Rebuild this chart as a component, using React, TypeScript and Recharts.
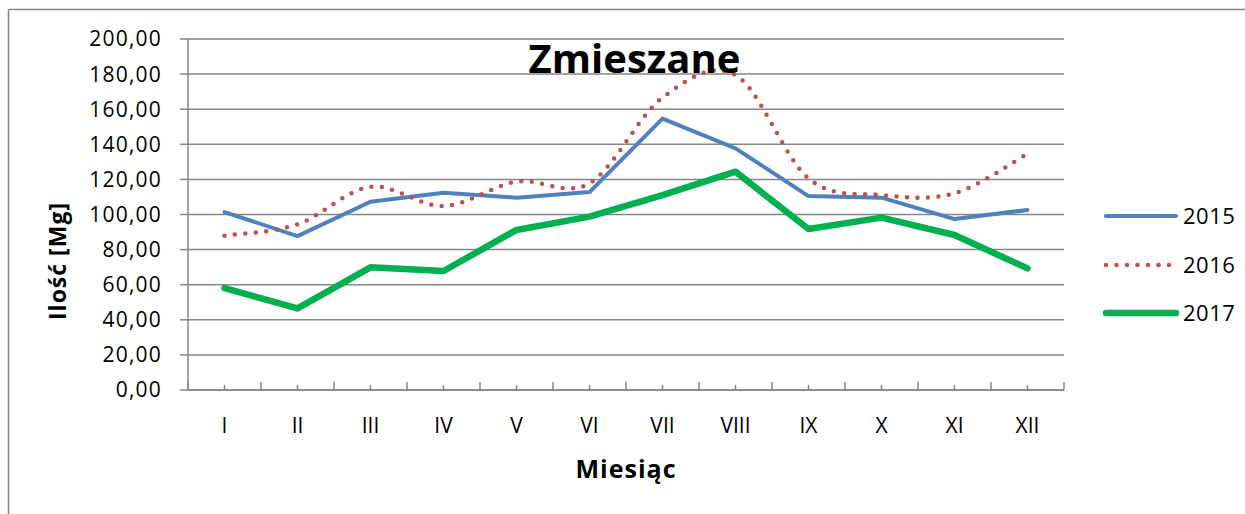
import React from "react";
import { LineChart, Line, XAxis, YAxis, CartesianGrid } from "recharts";

const categories = ["I", "II", "III", "IV", "V", "VI", "VII", "VIII", "IX", "X", "XI", "XII"];
const values2015 = [101.4, 87.7, 107.3, 112.4, 109.6, 112.8, 154.6, 137.7, 110.5, 109.6, 97.4, 102.6];
const values2016 = [87.9, 94.4, 115.8, 104.8, 118.7, 117.8, 166.6, 179.5, 120.6, 111.1, 112.1, 134.5];
const values2017 = [58.1, 46.5, 69.9, 67.8, 91.2, 98.8, 111.0, 124.4, 91.7, 98.2, 88.3, 69.3];
const yTicks = [0, 20, 40, 60, 80, 100, 120, 140, 160, 180, 200];
const seriesNames = ["2015", "2016", "2017"];
const title = "Zmieszane";
const yTitle = "Ilość [Mg]";
const xTitle = "Miesiąc";

const data = categories.map((c, i) => ({
  x: i + 1,
  cat: c,
  s2015: values2015[i],
  s2016: values2016[i],
  s2017: values2017[i],
}));

const xTicks: number[] = [];
for (let i = 0; i <= categories.length * 2; i++) xTicks.push(0.5 + i * 0.5);

const GRID = "#868686";
const FONT = "'Open Sans', sans-serif";

// Excel-like smoothing (Catmull-Rom / cardinal tension 0)
function excelSmooth(context: any) {
  let pts: number[][] = [];
  return {
    areaStart() {},
    areaEnd() {},
    lineStart() {
      pts = [];
    },
    point(x: number, y: number) {
      pts.push([+x, +y]);
    },
    lineEnd() {
      if (!pts.length) return;
      context.moveTo(pts[0][0], pts[0][1]);
      for (let i = 0; i < pts.length - 1; i++) {
        const p0 = pts[i - 1] || pts[i];
        const p1 = pts[i];
        const p2 = pts[i + 1];
        const p3 = pts[i + 2] || pts[i + 1];
        context.bezierCurveTo(
          p1[0] + (p2[0] - p0[0]) / 6,
          p1[1] + (p2[1] - p0[1]) / 6,
          p2[0] - (p3[0] - p1[0]) / 6,
          p2[1] - (p3[1] - p1[1]) / 6,
          p2[0],
          p2[1]
        );
      }
    },
  };
}

const XTick = (props: any) => {
  const { x, y, payload } = props;
  const v = payload.value;
  const isCenter = Number.isInteger(v);
  return (
    <g>
      <line x1={x} x2={x} y1={y} y2={y - (isCenter ? 5 : 8)} stroke={GRID} strokeWidth={1.5} />
      {isCenter && (
        <text x={x} y={y + 43} textAnchor="middle" fontFamily={FONT} fontSize={21} fill="#000">
          {categories[v - 1]}
        </text>
      )}
    </g>
  );
};

const legendItems = [
  { name: seriesNames[0], color: "#4f81bd", width: 4, dash: undefined as string | undefined, y: 216 },
  { name: seriesNames[1], color: "#c0504d", width: 4.5, dash: "0 10.5", y: 265 },
  { name: seriesNames[2], color: "#00b050", width: 6.5, dash: undefined, y: 313 },
];

export default function App() {
  return (
    <div style={{ position: "absolute", left: 0, top: 0, width: 1245, height: 514, background: "#fff" }}>
      <LineChart
        width={1245}
        height={514}
        data={data}
        margin={{ top: 39, right: 181, bottom: 74, left: 88 }}
      >
        <CartesianGrid vertical={false} stroke={GRID} strokeWidth={1.5} />
        <XAxis
          dataKey="x"
          type="number"
          domain={[0.5, 12.5]}
          ticks={xTicks}
          interval={0}
          height={50}
          axisLine={{ stroke: GRID, strokeWidth: 1.5 }}
          tickLine={false}
          tickSize={0}
          tickMargin={0}
          tick={<XTick />}
        />
        <YAxis
          type="number"
          domain={[0, 200]}
          ticks={yTicks}
          interval={0}
          width={100}
          axisLine={{ stroke: GRID, strokeWidth: 1.5 }}
          tickLine={{ stroke: GRID, strokeWidth: 1.5 }}
          tickSize={8}
          tickMargin={18}
          tickFormatter={(v: number) => v.toFixed(2).replace(".", ",")}
          tick={{ fill: "#000", fontSize: 21, fontFamily: FONT, letterSpacing: 1.2 }}
        />
        <Line
          dataKey="s2015"
          name={seriesNames[0]}
          type="linear"
          stroke="#4f81bd"
          strokeWidth={4}
          strokeLinejoin="round"
          strokeLinecap="round"
          dot={false}
          activeDot={false}
          isAnimationActive={false}
        />
        <Line
          dataKey="s2016"
          name={seriesNames[1]}
          type={excelSmooth as any}
          stroke="#c0504d"
          strokeWidth={4.5}
          strokeDasharray="0 10.5"
          strokeLinecap="round"
          dot={false}
          activeDot={false}
          isAnimationActive={false}
        />
        <Line
          dataKey="s2017"
          name={seriesNames[2]}
          type="linear"
          stroke="#00b050"
          strokeWidth={6.5}
          strokeLinejoin="round"
          strokeLinecap="round"
          dot={false}
          activeDot={false}
          isAnimationActive={false}
        />
      </LineChart>
      <svg
        width={1245}
        height={514}
        style={{ position: "absolute", left: 0, top: 0, pointerEvents: "none" }}
      >
        <line x1={8.5} y1={9.5} x2={1245} y2={9.5} stroke={GRID} strokeWidth={1.5} />
        <line x1={8.5} y1={9.5} x2={8.5} y2={514} stroke={GRID} strokeWidth={1.5} />
        <text x={634.5} y={73} textAnchor="middle" fontFamily={FONT} fontWeight={700} fontSize={40} fill="#000">
          {title}
        </text>
        <text
          transform="translate(66,261) rotate(-90)"
          x={0}
          y={0}
          textAnchor="middle"
          fontFamily={FONT}
          fontWeight={700}
          fontSize={23}
          letterSpacing={1}
          fill="#000"
        >
          {yTitle}
        </text>
        <text x={626} y={478} textAnchor="middle" fontFamily={FONT} fontWeight={700} fontSize={25} letterSpacing={1} fill="#000">
          {xTitle}
        </text>
        {legendItems.map((it) => (
          <g key={it.name}>
            <line
              x1={1106}
              x2={it.dash ? 1173 : 1176}
              y1={it.y}
              y2={it.y}
              stroke={it.color}
              strokeWidth={it.width}
              strokeDasharray={it.dash}
              strokeLinecap="round"
            />
            <text x={1183} y={it.y + 8} fontFamily={FONT} fontSize={22} letterSpacing={0.5} fill="#000">
              {it.name}
            </text>
          </g>
        ))}
      </svg>
    </div>
  );
}
